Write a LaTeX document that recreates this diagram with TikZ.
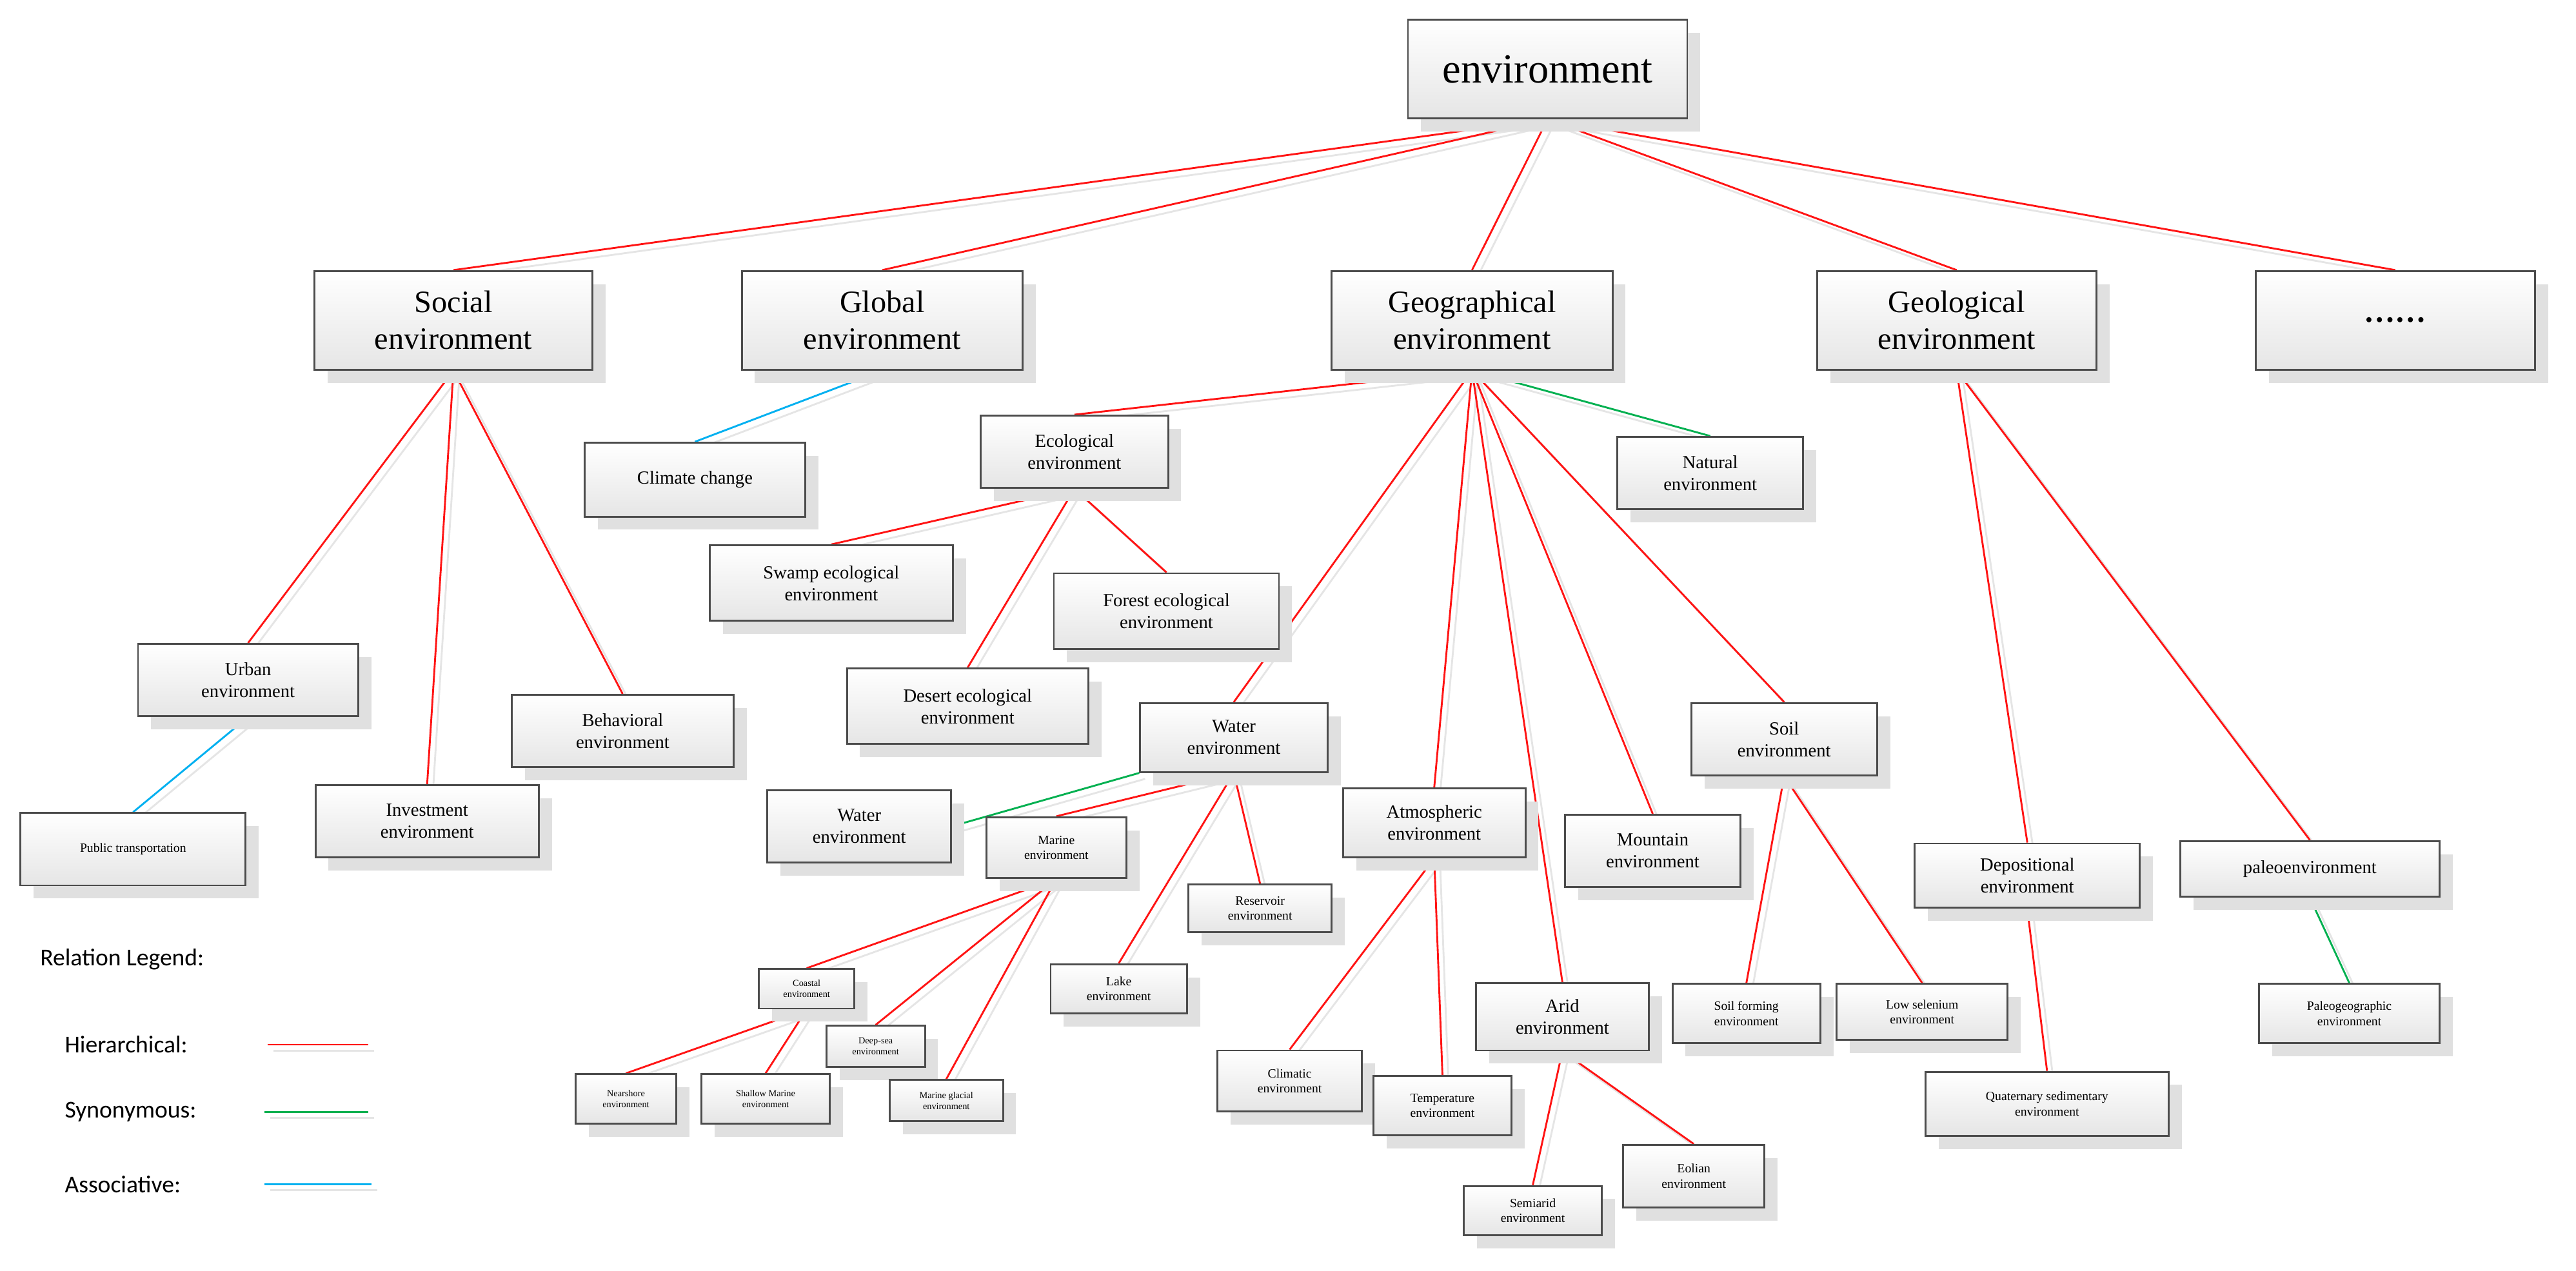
\documentclass[tikz,border=0pt]{standalone}
\usepackage{fontspec}
\setmainfont{Liberation Serif}
\newfontfamily\legfont{Carlito}
\usetikzlibrary{shadows}
\pgfdeclarelayer{bg}\pgfsetlayers{bg,main}
\definecolor{hred}{RGB}{255,20,20}
\definecolor{sgreen}{RGB}{0,176,80}
\definecolor{acyan}{RGB}{0,176,240}
\begin{document}
\begin{tikzpicture}[x=0.05cm,y=-0.05cm,
 box/.style={draw=black!70,line width=1.6pt,top color=white,bottom color=black!10,
   align=center,inner sep=2pt,drop shadow={shadow xshift=0.4cm,shadow yshift=-0.4cm,fill=black!12,opacity=1}},
 fA/.style={font=\fontsize{36}{42}\selectfont},
 fB/.style={font=\fontsize{27}{32}\selectfont},
 fC/.style={font=\fontsize{16}{19}\selectfont},
 fD/.style={font=\fontsize{13}{15}\selectfont},
 fE/.style={font=\fontsize{11}{13}\selectfont},
 fF/.style={font=\fontsize{8}{9.5}\selectfont},
 sh/.style={black!10,line width=1.6pt,transform canvas={shift={(0.18cm,-0.18cm)}}},
 hier/.style={hred,line width=1.6pt},
 syn/.style={sgreen,line width=1.6pt},
 asso/.style={acyan,line width=1.6pt},
 leg/.style={font=\legfont\fontsize{21}{24}\selectfont,anchor=west}]
\useasboundingbox (0,0) rectangle (1568,773.4);
\node[box,fA,minimum width=170*0.05cm,minimum height=60*0.05cm] (env) at (942,42) {environment};
\node[box,fB,minimum width=169*0.05cm,minimum height=60*0.05cm] (soc) at (276,195) {Social\\environment};
\node[box,fB,minimum width=171*0.05cm,minimum height=60*0.05cm] (glo) at (537,195) {Global\\environment};
\node[box,fB,minimum width=171*0.05cm,minimum height=60*0.05cm] (geo) at (896,195) {Geographical\\environment};
\node[box,fB,minimum width=170*0.05cm,minimum height=60*0.05cm] (gel) at (1191,195) {Geological\\environment};
\node[box,fB,minimum width=170*0.05cm,minimum height=60*0.05cm] (dots) at (1458,195) {\textbf{……}};
\node[box,fC,minimum width=134*0.05cm,minimum height=45*0.05cm] (cc) at (423,292) {Climate change};
\node[box,fC,minimum width=114*0.05cm,minimum height=44*0.05cm] (eco) at (654,275) {Ecological\\environment};
\node[box,fC,minimum width=113*0.05cm,minimum height=44*0.05cm] (nat) at (1041,288) {Natural\\environment};
\node[box,fC,minimum width=148*0.05cm,minimum height=46*0.05cm] (swa) at (506,355) {Swamp ecological\\environment};
\node[box,fC,minimum width=137*0.05cm,minimum height=46*0.05cm] (for) at (710,372) {Forest ecological\\environment};
\node[box,fC,minimum width=134*0.05cm,minimum height=44*0.05cm] (urb) at (151,414) {Urban\\environment};
\node[box,fC,minimum width=135*0.05cm,minimum height=44*0.05cm] (beh) at (379,445) {Behavioral\\environment};
\node[box,fC,minimum width=147*0.05cm,minimum height=46*0.05cm] (des) at (589,430) {Desert ecological\\environment};
\node[box,fC,minimum width=114*0.05cm,minimum height=42*0.05cm] (wat) at (751,449) {Water\\environment};
\node[box,fC,minimum width=113*0.05cm,minimum height=44*0.05cm] (soi) at (1086,450) {Soil\\environment};
\node[box,fC,minimum width=136*0.05cm,minimum height=44*0.05cm] (inv) at (260,500) {Investment\\environment};
\node[box,fE,minimum width=137*0.05cm,minimum height=44*0.05cm] (pub) at (81,517) {Public transportation};
\node[box,fC,minimum width=112*0.05cm,minimum height=44*0.05cm] (wa2) at (523,503) {Water\\environment};
\node[box,fC,minimum width=111*0.05cm,minimum height=42*0.05cm] (atm) at (873,501) {Atmospheric\\environment};
\node[box,fC,minimum width=107*0.05cm,minimum height=44*0.05cm] (mou) at (1006,518) {Mountain\\environment};
\node[box,fE,minimum width=85*0.05cm,minimum height=37*0.05cm] (mar) at (643,516) {Marine\\environment};
\node[box,fE,minimum width=87*0.05cm,minimum height=29*0.05cm] (res) at (767,553) {Reservoir\\environment};
\node[box,fC,minimum width=137*0.05cm,minimum height=39*0.05cm] (dep) at (1234,533) {Depositional\\environment};
\node[box,fC,minimum width=158*0.05cm,minimum height=34*0.05cm] (pal) at (1406,529) {paleoenvironment};
\node[box,fE,minimum width=83*0.05cm,minimum height=30*0.05cm] (lak) at (681,602) {Lake\\environment};
\node[box,fF,minimum width=58*0.05cm,minimum height=24*0.05cm] (coa) at (491,602) {Coastal\\environment};
\node[box,fF,minimum width=60*0.05cm,minimum height=25*0.05cm] (dee) at (533,637) {Deep-sea\\environment};
\node[box,fF,minimum width=61*0.05cm,minimum height=30*0.05cm] (nea) at (381,669) {Nearshore\\environment};
\node[box,fF,minimum width=78*0.05cm,minimum height=30*0.05cm] (sha) at (466,669) {Shallow Marine\\environment};
\node[box,fF,minimum width=69*0.05cm,minimum height=25*0.05cm] (mgl) at (576,670) {Marine glacial\\environment};
\node[box,fE,minimum width=88*0.05cm,minimum height=37*0.05cm] (cli) at (785,658) {Climatic\\environment};
\node[box,fE,minimum width=84*0.05cm,minimum height=36*0.05cm] (tem) at (878,673) {Temperature\\environment};
\node[box,fC,minimum width=105*0.05cm,minimum height=41*0.05cm] (ari) at (951,619) {Arid\\environment};
\node[box,fE,minimum width=90*0.05cm,minimum height=36*0.05cm] (sfo) at (1063,617) {Soil forming\\environment};
\node[box,fE,minimum width=104*0.05cm,minimum height=34*0.05cm] (low) at (1170,616) {Low selenium\\environment};
\node[box,fE,minimum width=110*0.05cm,minimum height=36*0.05cm] (pgo) at (1430,617) {Paleogeographic\\environment};
\node[box,fE,minimum width=148*0.05cm,minimum height=39*0.05cm] (qua) at (1246,672) {Quaternary sedimentary\\environment};
\node[box,fE,minimum width=86*0.05cm,minimum height=38*0.05cm] (eol) at (1031,716) {Eolian\\environment};
\node[box,fE,minimum width=84*0.05cm,minimum height=30*0.05cm] (sem) at (933,737) {Semiarid\\environment};
% legend
\node[leg] (lt) at (22,584) {Relation Legend:};
\node[leg] (lh) at (37,636) {Hierarchical:};
\node[leg] (ls) at (37,677) {Synonymous:};
\node[leg] (la) at (37,721) {Associative:};
\coordinate (h1) at (163,636); \coordinate (h2) at (224,636);
\coordinate (s1) at (161,677); \coordinate (s2) at (224,677);
\coordinate (a1) at (161,721); \coordinate (a2) at (226,721);
\begin{pgfonlayer}{bg}
\foreach \a/\b in {env/soc,env/glo,env/geo,env/gel,env/dots,soc/urb,soc/inv,soc/beh,geo/eco,geo/wat,geo/atm,geo/ari,geo/mou,geo/soi,eco/swa,eco/des,eco/for,wat/mar,wat/lak,wat/res,mar/coa,mar/dee,mar/mgl,coa/nea,coa/sha,atm/cli,atm/tem,ari/sem,ari/eol,soi/sfo,soi/low,gel/dep,gel/pal,dep/qua}
 {\draw[sh] (\a.south) -- (\b.north); \draw[hier] (\a.south) -- (\b.north);}
\foreach \a/\b in {geo/nat,pal/pgo}
 {\draw[sh] (\a.south) -- (\b.north); \draw[syn] (\a.south) -- (\b.north);}
\draw[sh] (wat.south west) -- (wa2.east); \draw[syn] (wat.south west) -- (wa2.east);
\foreach \a/\b in {glo/cc,urb/pub}
 {\draw[sh] (\a.south) -- (\b.north); \draw[asso] (\a.south) -- (\b.north);}
\draw[sh] (h1) -- (h2); \draw[hier] (h1) -- (h2);
\draw[sh] (s1) -- (s2); \draw[syn] (s1) -- (s2);
\draw[sh] (a1) -- (a2); \draw[asso] (a1) -- (a2);
\end{pgfonlayer}
\end{tikzpicture}
\end{document}
